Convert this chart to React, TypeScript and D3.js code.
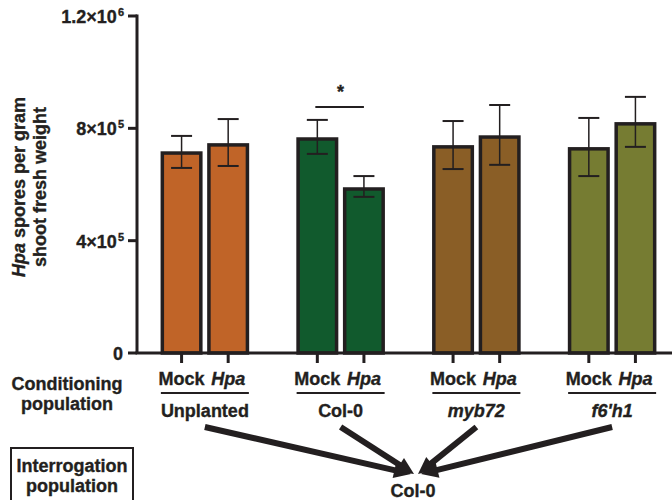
import React, { useEffect, useRef } from "react";
import * as d3 from "d3";

// data
const groups = ["Unplanted", "Col-0", "myb72", "f6'h1"];
const groupItalic = [false, false, true, true];
const conditions = ["Mock", "Hpa"];
const means = [
  [712000, 741000],
  [762000, 584000],
  [734000, 769000],
  [727000, 816000],
];
const upper = [
  [773000, 833000],
  [830000, 630000],
  [826000, 883000],
  [837000, 912000],
];
const lower = [
  [659000, 666000],
  [709000, 556000],
  [655000, 670000],
  [630000, 734000],
];
const colors = ["#c06428", "#115a2d", "#8a5e26", "#767c32"];
const yTicks = [0, 400000, 800000, 1200000];
const yTickBase = ["0", "4×10", "8×10", "1.2×10"];
const yTickExp = ["", "5", "5", "6"];

const INK = "#231f20";
const FONT = "'Liberation Sans', Arial, Helvetica, sans-serif";
const FS = 18;

const App = () => {
  const svgRef = useRef<SVGSVGElement | null>(null);

  useEffect(() => {
    if (!svgRef.current) return;
    const svg = d3.select(svgRef.current);
    svg.selectAll("*").remove();

    const width = 672;
    const height = 500;
    svg.attr("width", width).attr("height", height).attr("font-family", FONT);

    // scales
    const x0 = 137;
    const y = d3.scaleLinear().domain([0, 1200000]).range([353, 16]);
    const xg = d3.scaleBand().domain(groups).range([x0, 680]);
    const xc = d3.scalePoint().domain(conditions).range([-23.3, 23.3]);
    const barW = 38.5;
    const cx = (gi: number, ci: number) =>
      (xg(groups[gi]) as number) + xg.bandwidth() / 2 + (xc(conditions[ci]) as number);

    const g = svg.append("g");

    // bold label helper (slight stroke to thicken, like the original)
    const label = (x: number, yy: number, s: string, italic = false, anchor = "middle") =>
      g.append("text")
        .attr("x", x).attr("y", yy)
        .attr("text-anchor", anchor)
        .attr("font-size", FS)
        .attr("font-weight", "bold")
        .attr("font-style", italic ? "italic" : "normal")
        .attr("fill", INK)
        .attr("stroke", INK)
        .attr("stroke-width", 0.35)
        .text(s);

    // bars
    groups.forEach((grp, gi) => {
      conditions.forEach((c, ci) => {
        const v = means[gi][ci];
        g.append("rect")
          .attr("x", cx(gi, ci) - barW / 2)
          .attr("y", y(v))
          .attr("width", barW)
          .attr("height", y(0) - y(v))
          .attr("fill", colors[gi])
          .attr("stroke", INK)
          .attr("stroke-width", 3.5);
      });
    });

    // error bars
    const capW = 21;
    groups.forEach((grp, gi) => {
      conditions.forEach((c, ci) => {
        const xx = cx(gi, ci);
        g.append("line")
          .attr("x1", xx).attr("x2", xx)
          .attr("y1", y(upper[gi][ci])).attr("y2", y(lower[gi][ci]))
          .attr("stroke", INK).attr("stroke-width", 1.5);
        [upper[gi][ci], lower[gi][ci]].forEach((e) => {
          g.append("line")
            .attr("x1", xx - capW / 2).attr("x2", xx + capW / 2)
            .attr("y1", y(e)).attr("y2", y(e))
            .attr("stroke", INK).attr("stroke-width", 2);
        });
      });
    });

    // y axis
    g.append("line")
      .attr("x1", x0).attr("x2", x0)
      .attr("y1", y(1200000) - 1.5).attr("y2", y(0))
      .attr("stroke", INK).attr("stroke-width", 3);
    yTicks.forEach((t, i) => {
      g.append("line")
        .attr("x1", x0 - 9).attr("x2", x0)
        .attr("y1", y(t)).attr("y2", y(t))
        .attr("stroke", INK).attr("stroke-width", 3);
      const txt = label(yTickExp[i] ? 124 : 123, y(t) + 7, "", false, "end");
      txt.append("tspan").text(yTickBase[i]);
      if (yTickExp[i]) {
        txt.append("tspan").attr("dy", -7).attr("dx", 1).attr("font-size", 11).text(yTickExp[i]);
      }
    });

    // x axis
    g.append("line")
      .attr("x1", x0 - 1.5).attr("x2", width)
      .attr("y1", y(0)).attr("y2", y(0))
      .attr("stroke", INK).attr("stroke-width", 3);
    groups.forEach((grp, gi) => {
      conditions.forEach((c, ci) => {
        const xx = cx(gi, ci);
        g.append("line")
          .attr("x1", xx).attr("x2", xx)
          .attr("y1", y(0)).attr("y2", y(0) + 10)
          .attr("stroke", INK).attr("stroke-width", 3);
        label(xx, 385, c, ci === 1);
      });
      const gc = (xg(grp) as number) + xg.bandwidth() / 2;
      g.append("line")
        .attr("x1", gc - 44).attr("x2", gc + 44)
        .attr("y1", 393).attr("y2", 393)
        .attr("stroke", INK).attr("stroke-width", 2);
      label(gc, 417, grp, groupItalic[gi]);
    });

    // significance marker between Col-0 Mock and Hpa
    g.append("line")
      .attr("x1", cx(1, 0) - 2).attr("x2", cx(1, 1))
      .attr("y1", 107).attr("y2", 107)
      .attr("stroke", INK).attr("stroke-width", 2);
    label((cx(1, 0) + cx(1, 1)) / 2, 98, "*");

    // y axis title
    const yt = g.append("g").attr("transform", "translate(0, 187) rotate(-90)");
    const l1 = yt.append("text")
      .attr("x", 0).attr("y", 25)
      .attr("text-anchor", "middle")
      .attr("font-size", FS)
      .attr("font-weight", "bold")
      .attr("fill", INK)
      .attr("stroke", INK)
      .attr("stroke-width", 0.35);
    l1.append("tspan").attr("font-style", "italic").text("Hpa");
    l1.append("tspan").text(" spores per gram");
    yt.append("text")
      .attr("x", 0).attr("y", 46)
      .attr("text-anchor", "middle")
      .attr("font-size", FS)
      .attr("font-weight", "bold")
      .attr("fill", INK)
      .attr("stroke", INK)
      .attr("stroke-width", 0.35)
      .text("shoot fresh weight");

    // left labels
    ["Conditioning", "population"].forEach((s, i) => label(67, 390 + i * 20, s));
    g.append("rect")
      .attr("x", 11).attr("y", 448)
      .attr("width", 122).attr("height", 60)
      .attr("fill", "none")
      .attr("stroke", INK).attr("stroke-width", 2);
    ["Interrogation", "population"].forEach((s, i) => label(72, 472 + i * 20, s));

    // arrows from each conditioning group to the interrogation population
    const tipX = [411, 414, 418, 421];
    const tipY = 474;
    const headL = 17;
    const headW = 8;
    groups.forEach((grp, gi) => {
      const sx = (xg(grp) as number) + xg.bandwidth() / 2;
      const sy = 427;
      const tx = tipX[gi];
      const a = Math.atan2(tipY - sy, tx - sx);
      const bx = tx - Math.cos(a) * headL;
      const by = tipY - Math.sin(a) * headL;
      g.append("line")
        .attr("x1", sx).attr("y1", sy)
        .attr("x2", bx + Math.cos(a) * 2).attr("y2", by + Math.sin(a) * 2)
        .attr("stroke", INK).attr("stroke-width", 6);
      const px = -Math.sin(a) * headW;
      const py = Math.cos(a) * headW;
      g.append("path")
        .attr("d", `M${tx},${tipY} L${bx + px},${by + py} L${bx - px},${by - py} Z`)
        .attr("fill", INK);
    });

    label(413, 497, "Col-0");
  }, []);

  return (
    <svg
      ref={svgRef}
      style={{ position: "absolute", left: 0, top: 0, display: "block", background: "#fff" }}
    />
  );
};

export default App;
